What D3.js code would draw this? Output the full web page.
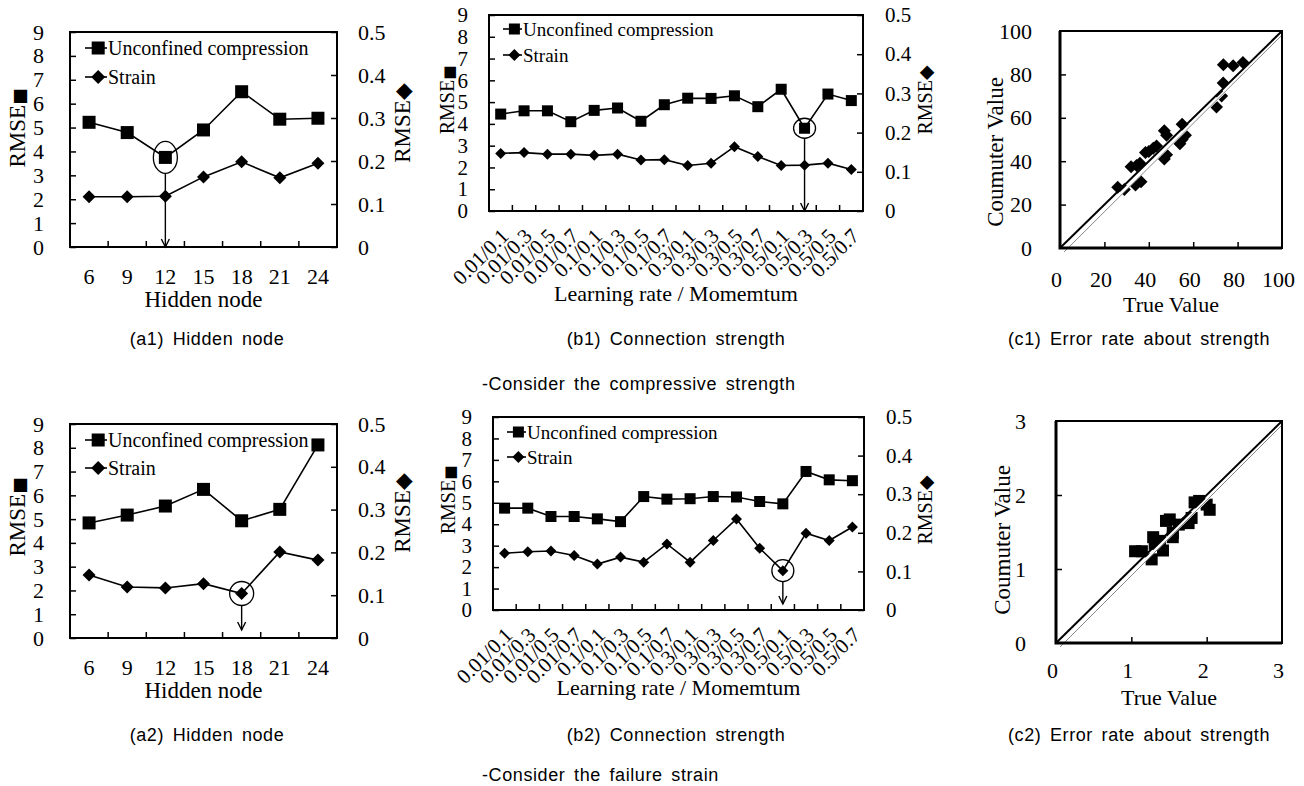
<!doctype html>
<html>
<head>
<meta charset="utf-8">
<title>RMSE of hidden node and connection strength</title>
<script src="https://cdn.jsdelivr.net/npm/d3@7"></script>
<style>
  html, body { margin: 0; padding: 0; background: #fff; }
  svg { display: block; }
</style>
</head>
<body>
<div id="chart"></div>
<script>
// categories
var hiddenNodes = [6, 9, 12, 15, 18, 21, 24];
var lrMomentum = ["0.01/0.1", "0.01/0.3", "0.01/0.5", "0.01/0.7", "0.1/0.1", "0.1/0.3", "0.1/0.5", "0.1/0.7",
                  "0.3/0.1", "0.3/0.3", "0.3/0.5", "0.3/0.7", "0.5/0.1", "0.5/0.3", "0.5/0.5", "0.5/0.7"];

// compression RMSE on the left axis, strain RMSE on the right axis
var a1Compression = [5.22, 4.79, 3.75, 4.90, 6.50, 5.35, 5.39];
var a1Strain = [0.117, 0.117, 0.118, 0.163, 0.198, 0.161, 0.195];
var a2Compression = [4.84, 5.17, 5.55, 6.25, 4.93, 5.41, 8.12];
var a2Strain = [0.147, 0.119, 0.117, 0.127, 0.104, 0.201, 0.182];

var b1Compression = [4.45, 4.60, 4.60, 4.10, 4.62, 4.73, 4.12, 4.88, 5.18, 5.17, 5.29, 4.79, 5.59, 3.80, 5.37, 5.07];
var b1Strain = [0.147, 0.149, 0.145, 0.145, 0.142, 0.145, 0.130, 0.131, 0.116, 0.122, 0.164, 0.139, 0.116, 0.117, 0.122, 0.106];
var b2Compression = [4.75, 4.75, 4.36, 4.36, 4.25, 4.12, 5.29, 5.17, 5.19, 5.29, 5.27, 5.06, 4.95, 6.46, 6.07, 6.03];
var b2Strain = [0.147, 0.151, 0.153, 0.141, 0.119, 0.137, 0.124, 0.171, 0.124, 0.180, 0.236, 0.160, 0.102, 0.199, 0.180, 0.215];

// true vs computed values
var c1True = [26, 29, 32, 34.5, 36, 36.5, 34, 38.5, 40, 42, 43.5, 47, 48, 47, 48, 54, 55, 56.5, 55, 70.5, 72.8, 73.5, 73.6, 78, 82.4];
var c1Computed = [28, 27, 37.5, 38, 39, 30.5, 29, 44, 44.5, 46, 47, 54, 52, 41, 43, 48, 50, 52, 57, 65, 70, 76, 84.5, 84, 85.5];
var c2True = [1.05, 1.14, 1.27, 1.29, 1.31, 1.38, 1.42, 1.46, 1.51, 1.55, 1.55, 1.63, 1.76, 1.80, 1.84, 1.90, 2.00, 2.04];
var c2Computed = [1.24, 1.24, 1.13, 1.43, 1.34, 1.38, 1.25, 1.65, 1.67, 1.49, 1.43, 1.60, 1.62, 1.69, 1.90, 1.92, 1.87, 1.80];

var leftTicks = [0, 1, 2, 3, 4, 5, 6, 7, 8, 9];
var rightTicks = [0, 0.1, 0.2, 0.3, 0.4, 0.5];
var c1Ticks = [0, 20, 40, 60, 80, 100];
var c2Ticks = [0, 1, 2, 3];

var serif = "'Liberation Serif', 'Times New Roman', serif";
var sans = "'Liberation Sans', Arial, sans-serif";

var svg = d3.select("#chart").append("svg")
    .attr("width", 1304)
    .attr("height", 786)
    .style("background", "#fff");

function styleAxis(ax, size) {
    ax.select(".domain").remove();
    ax.selectAll(".tick line").attr("stroke", "#000").attr("stroke-width", 1.5);
    ax.selectAll("text")
        .attr("font-family", serif)
        .attr("font-size", size)
        .attr("fill", "#000");
}

function drawMarker(g, type, x, y, s) {
    if (type === "square") {
        g.append("rect")
            .attr("x", x - s / 2).attr("y", y - s / 2)
            .attr("width", s).attr("height", s)
            .attr("fill", "#000");
    } else {
        var h = s / 2;
        g.append("path")
            .attr("d", "M" + x + "," + (y - h) + "L" + (x + h) + "," + y + "L" + x + "," + (y + h) + "L" + (x - h) + "," + y + "Z")
            .attr("fill", "#000");
    }
}

// rotated "RMSE" title followed by a series symbol
function rmseTitle(g, pos, size, symbol, scale) {
    var t = g.append("text")
        .attr("transform", "translate(" + pos[0] + "," + pos[1] + ") rotate(-90)")
        .attr("text-anchor", "middle").attr("dy", "0.35em")
        .attr("font-family", serif).attr("font-size", size);
    t.append("tspan").text("RMSE");
    t.append("tspan")
        .attr("font-family", "'DejaVu Sans', sans-serif")
        .attr("font-size", size * scale)
        .text(symbol);
}

function linePanel(p) {
    var g = svg.append("g");
    var b = p.box;
    var x = d3.scaleBand().domain(p.cats).range([b.l, b.r]);
    var yL = d3.scaleLinear().domain([0, 9]).range([b.b, b.t]);
    var yR = d3.scaleLinear().domain([0, 0.5]).range([b.b, b.t]);
    var cx = function (c) { return x(c) + x.bandwidth() / 2; };

    // left axis
    var axL = g.append("g")
        .attr("transform", "translate(" + b.l + ",0)")
        .call(d3.axisLeft(yL).tickValues(leftTicks).tickSizeInner(-6).tickSizeOuter(0).tickPadding(p.padL));
    styleAxis(axL, p.tickFont);

    // right axis
    var axR = g.append("g")
        .attr("transform", "translate(" + b.r + ",0)")
        .call(d3.axisRight(yR).tickValues(rightTicks).tickSizeInner(-6).tickSizeOuter(0).tickPadding(p.padR)
            .tickFormat(function (d) { return d === 0 ? "0" : d3.format(".1f")(d); }));
    styleAxis(axR, p.tickFont);

    // bottom axis: labels at band centers, ticks at band edges
    var axB = g.append("g")
        .attr("transform", "translate(0," + b.b + ")")
        .call(d3.axisBottom(x).tickSize(0));
    styleAxis(axB, p.xFont);
    if (p.rotate) {
        axB.selectAll("text")
            .attr("x", 0).attr("y", 0).attr("dy", "0.35em")
            .attr("text-anchor", "end")
            .attr("transform", "translate(4," + p.xLabelOff + ") rotate(-45)");
    } else {
        axB.selectAll("text").attr("y", p.xLabelOff).attr("dy", "0.35em");
    }
    p.cats.slice(1).forEach(function (c) {
        g.append("line")
            .attr("x1", x(c)).attr("x2", x(c))
            .attr("y1", b.b).attr("y2", b.b - 6)
            .attr("stroke", "#000").attr("stroke-width", 1.5);
    });

    // frame
    g.append("rect")
        .attr("x", b.l).attr("y", b.t)
        .attr("width", b.r - b.l).attr("height", b.b - b.t)
        .attr("fill", "none").attr("stroke", "#000").attr("stroke-width", 2);

    // series
    var lineL = d3.line().x(function (d, i) { return cx(p.cats[i]); }).y(function (d) { return yL(d); });
    var lineR = d3.line().x(function (d, i) { return cx(p.cats[i]); }).y(function (d) { return yR(d); });
    g.append("path").attr("d", lineL(p.comp)).attr("fill", "none").attr("stroke", "#000").attr("stroke-width", 1.6);
    g.append("path").attr("d", lineR(p.strain)).attr("fill", "none").attr("stroke", "#000").attr("stroke-width", 1.6);
    p.comp.forEach(function (v, i) { drawMarker(g, "square", cx(p.cats[i]), yL(v), p.sq); });
    p.strain.forEach(function (v, i) { drawMarker(g, "diamond", cx(p.cats[i]), yR(v), p.di); });

    // marked minimum
    var m = p.mark;
    var mx = cx(p.cats[m.index]);
    var my = m.series === "comp" ? yL(p.comp[m.index]) : yR(p.strain[m.index]);
    g.append("ellipse")
        .attr("cx", mx).attr("cy", my).attr("rx", m.rx).attr("ry", m.ry)
        .attr("fill", "none").attr("stroke", "#000").attr("stroke-width", 1.3);
    var tip = b.b - m.gap;
    g.append("line")
        .attr("x1", mx).attr("x2", mx).attr("y1", my + m.ry).attr("y2", tip)
        .attr("stroke", "#000").attr("stroke-width", 1.4);
    g.append("path")
        .attr("d", "M" + (mx - 4) + "," + (tip - 8) + "L" + mx + "," + tip + "L" + (mx + 4) + "," + (tip - 8))
        .attr("fill", "none").attr("stroke", "#000").attr("stroke-width", 1.4);

    // legend
    var lg = p.legend;
    [["square", "Unconfined compression"], ["diamond", "Strain"]].forEach(function (e, i) {
        var ly = lg.y[i];
        g.append("line")
            .attr("x1", lg.x).attr("x2", lg.x + lg.w).attr("y1", ly).attr("y2", ly)
            .attr("stroke", "#000").attr("stroke-width", 1.6);
        drawMarker(g, e[0], lg.x + lg.w * 0.6, ly, e[0] === "square" ? lg.sq : lg.di);
        g.append("text")
            .attr("x", lg.x + lg.w + 1).attr("y", ly).attr("dy", "0.35em")
            .attr("font-family", serif).attr("font-size", lg.font)
            .text(e[1]);
    });

    // axis titles
    rmseTitle(g, p.leftTitle, p.titleFont, "\u25A0", 0.75);
    rmseTitle(g, p.rightTitle, p.titleFont, "\u25C6", 0.95);
    g.append("text")
        .attr("x", (b.l + b.r) / 2).attr("y", p.xTitleY).attr("dy", "0.35em")
        .attr("text-anchor", "middle")
        .attr("font-family", serif).attr("font-size", p.xTitleFont)
        .text(p.xTitle);
}

function scatterPanel(p) {
    var g = svg.append("g");
    var b = p.box;
    var x = d3.scaleLinear().domain([0, p.max]).range([b.l, b.r]);
    var y = d3.scaleLinear().domain([0, p.max]).range([b.b, b.t]);
    var fmt = d3.format("d");

    var axL = g.append("g")
        .attr("transform", "translate(" + b.l + ",0)")
        .call(d3.axisLeft(y).tickValues(p.ticks).tickFormat(fmt).tickSizeInner(-6).tickSizeOuter(0).tickPadding(p.padL));
    styleAxis(axL, 22);
    axL.selectAll(".tick").filter(function (d) { return d === 0 || d === p.max; }).select("line").remove();
    var axB = g.append("g")
        .attr("transform", "translate(0," + b.b + ")")
        .call(d3.axisBottom(x).tickValues(p.ticks).tickFormat(fmt).tickSizeInner(-6).tickSizeOuter(0));
    styleAxis(axB, 22);
    axB.selectAll(".tick").filter(function (d) { return d === 0 || d === p.max; }).select("line").remove();
    axB.selectAll("text").attr("y", p.xLabelOff).attr("dy", "0.35em").attr("dx", -4);

    p.xs.forEach(function (v, i) { drawMarker(g, p.marker, x(v), y(p.ys[i]), p.size); });

    // 1:1 line with the pale stripe beside it
    var diag = [[x(0), y(0)], [x(p.max), y(p.max)]];
    g.append("line")
        .attr("x1", diag[0][0] + 2.4).attr("y1", diag[0][1] + 2.4)
        .attr("x2", diag[1][0] + 2.4).attr("y2", diag[1][1] + 2.4)
        .attr("stroke", "#fff").attr("stroke-width", 3);
    g.append("line")
        .attr("x1", diag[0][0] + 4).attr("y1", diag[0][1] + 4)
        .attr("x2", diag[1][0]).attr("y2", diag[1][1] + 4)
        .attr("stroke", "#888").attr("stroke-width", 1);
    g.append("line")
        .attr("x1", diag[0][0]).attr("y1", diag[0][1])
        .attr("x2", diag[1][0]).attr("y2", diag[1][1])
        .attr("stroke", "#000").attr("stroke-width", 2);

    g.append("rect")
        .attr("x", b.l).attr("y", b.t)
        .attr("width", b.r - b.l).attr("height", b.b - b.t)
        .attr("fill", "none").attr("stroke", "#000").attr("stroke-width", 2);
    g.append("path")
        .attr("d", "M" + b.l + "," + b.t + "V" + b.b + "H" + b.r)
        .attr("fill", "none").attr("stroke", "#000").attr("stroke-width", 3);

    g.append("text")
        .attr("transform", "translate(" + p.yTitle[0] + "," + p.yTitle[1] + ") rotate(-90)")
        .attr("text-anchor", "middle").attr("dy", "0.35em")
        .attr("font-family", serif).attr("font-size", 23)
        .text("Coumuter Value");
    g.append("text")
        .attr("x", (b.l + b.r) / 2).attr("y", p.xTitleY).attr("dy", "0.35em")
        .attr("text-anchor", "middle")
        .attr("font-family", serif).attr("font-size", 22)
        .text("True Value");
}

linePanel({
    cats: hiddenNodes, comp: a1Compression, strain: a1Strain,
    box: { l: 70, r: 337, t: 32, b: 247 },
    padL: 26, padR: 21, tickFont: 22, xFont: 22, xLabelOff: 29,
    sq: 13, di: 13, titleFont: 23,
    legend: { x: 85, w: 22, y: [48, 77], font: 20, sq: 13, di: 14 },
    leftTitle: [17, 128], rightTitle: [402, 123],
    xTitle: "Hidden node", xTitleY: 299, xTitleFont: 23,
    mark: { series: "comp", index: 2, rx: 12, ry: 16, gap: 0 }
});
linePanel({
    cats: hiddenNodes, comp: a2Compression, strain: a2Strain,
    box: { l: 70, r: 337, t: 424, b: 638 },
    padL: 26, padR: 21, tickFont: 22, xFont: 22, xLabelOff: 29,
    sq: 13, di: 13, titleFont: 23,
    legend: { x: 85, w: 22, y: [440, 468], font: 20, sq: 13, di: 14 },
    leftTitle: [17, 517], rightTitle: [402, 513],
    xTitle: "Hidden node", xTitleY: 690, xTitleFont: 23,
    mark: { series: "strain", index: 4, rx: 12, ry: 12, gap: 8 }
});
linePanel({
    cats: lrMomentum, comp: b1Compression, strain: b1Strain,
    box: { l: 489, r: 863, t: 15, b: 211 },
    padL: 21, padR: 22, tickFont: 21, xFont: 21, xLabelOff: 21, rotate: true,
    sq: 11, di: 11, titleFont: 20,
    legend: { x: 503, w: 19, y: [29, 55], font: 19, sq: 11, di: 12 },
    leftTitle: [447, 100], rightTitle: [925, 100],
    xTitle: "Learning rate / Momemtum", xTitleY: 293, xTitleFont: 22,
    mark: { series: "comp", index: 13, rx: 11, ry: 10, gap: 0 }
});
linePanel({
    cats: lrMomentum, comp: b2Compression, strain: b2Strain,
    box: { l: 493, r: 864, t: 417, b: 610 },
    padL: 21, padR: 22, tickFont: 21, xFont: 21, xLabelOff: 21, rotate: true,
    sq: 11, di: 11, titleFont: 20,
    legend: { x: 507, w: 19, y: [432, 457], font: 19, sq: 11, di: 12 },
    leftTitle: [448, 500], rightTitle: [925, 510],
    xTitle: "Learning rate / Momemtum", xTitleY: 687, xTitleFont: 22,
    mark: { series: "strain", index: 12, rx: 11, ry: 11, gap: 6 }
});

scatterPanel({
    xs: c1True, ys: c1Computed, max: 100, ticks: c1Ticks,
    box: { l: 1060, r: 1282, t: 31, b: 248 },
    padL: 28, xLabelOff: 31, marker: "diamond", size: 13,
    yTitle: [995, 152], xTitleY: 304
});
scatterPanel({
    xs: c2True, ys: c2Computed, max: 3, ticks: c2Ticks,
    box: { l: 1056, r: 1282, t: 421, b: 643 },
    padL: 30, xLabelOff: 27, marker: "square", size: 12,
    yTitle: [1002, 540], xTitleY: 697
});

// captions
var captions = [
    [207, 339, "(a1) Hidden node"], [676, 339, "(b1) Connection strength"], [1139, 339, "(c1) Error rate about strength"],
    [207, 735, "(a2) Hidden node"], [676, 735, "(b2) Connection strength"], [1139, 735, "(c2) Error rate about strength"]
];
captions.forEach(function (c) {
    svg.append("text")
        .attr("x", c[0]).attr("y", c[1]).attr("dy", "0.35em")
        .attr("text-anchor", "middle")
        .attr("font-family", sans).attr("font-size", 18)
        .attr("letter-spacing", 0.6).attr("word-spacing", 3)
        .text(c[2]);
});
[[384, "-Consider the compressive strength"], [775, "-Consider the failure strain"]].forEach(function (c) {
    svg.append("text")
        .attr("x", 482).attr("y", c[0]).attr("dy", "0.35em")
        .attr("font-family", sans).attr("font-size", 18)
        .attr("letter-spacing", 0.6).attr("word-spacing", 3)
        .text(c[1]);
});
</script>
</body>
</html>
